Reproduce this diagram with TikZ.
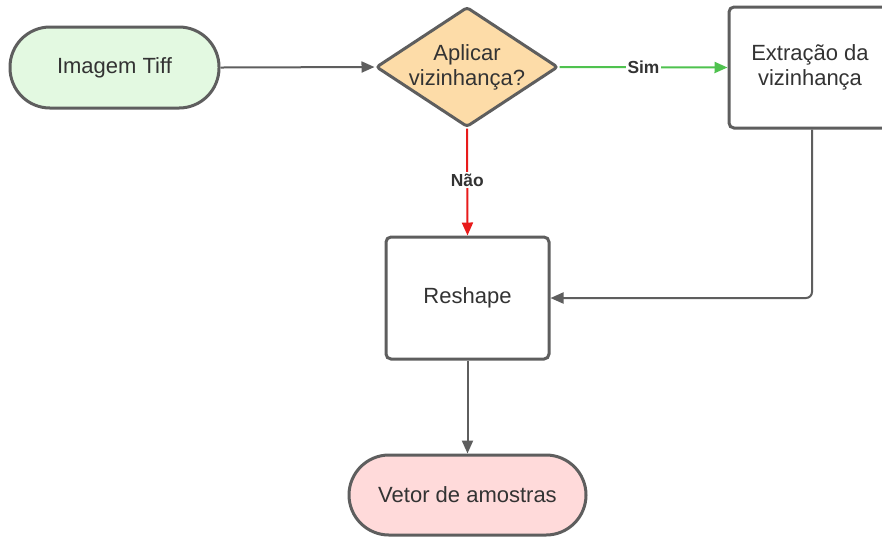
\documentclass[tikz,border=0pt]{standalone}
\usepackage{fontspec}
\setmainfont{Liberation Sans}
\usetikzlibrary{arrows.meta,shapes.geometric}

\definecolor{edgegray}{HTML}{5E5E5E}
\definecolor{txtgray}{HTML}{333333}
\definecolor{startfill}{HTML}{E3F9E1}
\definecolor{decfill}{HTML}{FDDCA8}
\definecolor{endfill}{HTML}{FFDADA}
\definecolor{yesgreen}{HTML}{4FC24F}
\definecolor{nored}{HTML}{E81B1B}

\tikzset{
  shapeline/.style={draw=edgegray, line width=1.5pt},
  terminal/.style={shapeline, rectangle, rounded corners=20pt, inner sep=0pt},
  procbox/.style={shapeline, rectangle, rounded corners=2.5pt, inner sep=0pt, fill=white},
  decision/.style={shapeline, diamond, rounded corners=1.5pt, inner sep=0pt,
    fill=decfill, aspect=1.5167, minimum width=91pt, minimum height=60pt},
  txt/.style={text=txtgray, font=\fontsize{11}{12.5}\selectfont, align=center},
  edgelabel/.style={text=txtgray, font=\fontsize{8.7}{10}\selectfont\bfseries,
    fill=white, inner sep=1pt},
  conn/.style={draw=edgegray, line width=1pt, -{Triangle[length=6.5pt,width=5.5pt]}},
}

\begin{document}
\begin{tikzpicture}[x=0.5pt, y=-0.5pt]
  \clip (0,0) rectangle (882,538);
  \fill[white] (0,0) rectangle (882,538);

  % shapes
  \node[terminal, fill=startfill, minimum width=104.5pt, minimum height=40.5pt, txt]
    (tiff) at (114.5,67.5) {Imagem Tiff};
  \node[decision] (ask) at (467,67) {};
  \node[txt] (asktext) at (ask) {Aplicar\\vizinhança?};
  \node[procbox, minimum width=81pt, minimum height=60.5pt, txt]
    (extr) at (810,67.5) {Extração da\\vizinhança};
  \node[procbox, minimum width=81.5pt, minimum height=61pt, txt]
    (resh) at (467.5,298) {Reshape};
  \node[terminal, fill=endfill, minimum width=118.5pt, minimum height=40pt, txt]
    (vetor) at (467.5,495) {Vetor de amostras};

  % connectors
  \draw[conn] (tiff.east) -- (ask.west);
  \draw[conn, draw=yesgreen, -{Triangle[length=6.5pt,width=5.5pt,fill=yesgreen]}]
    (ask.east) -- node[edgelabel] (simlbl) {Sim} (extr.west);
  \draw[conn, draw=nored, -{Triangle[length=6.5pt,width=5.5pt,fill=nored]}]
    (ask.south) -- node[edgelabel, pos=0.48] (naolbl) {Não} (resh.north);
  \draw[conn, rounded corners=3pt] ([xshift=1pt]extr.south) |- (resh.east);
  \draw[conn] (resh.south) -- (vetor.north);
\end{tikzpicture}
\end{document}
